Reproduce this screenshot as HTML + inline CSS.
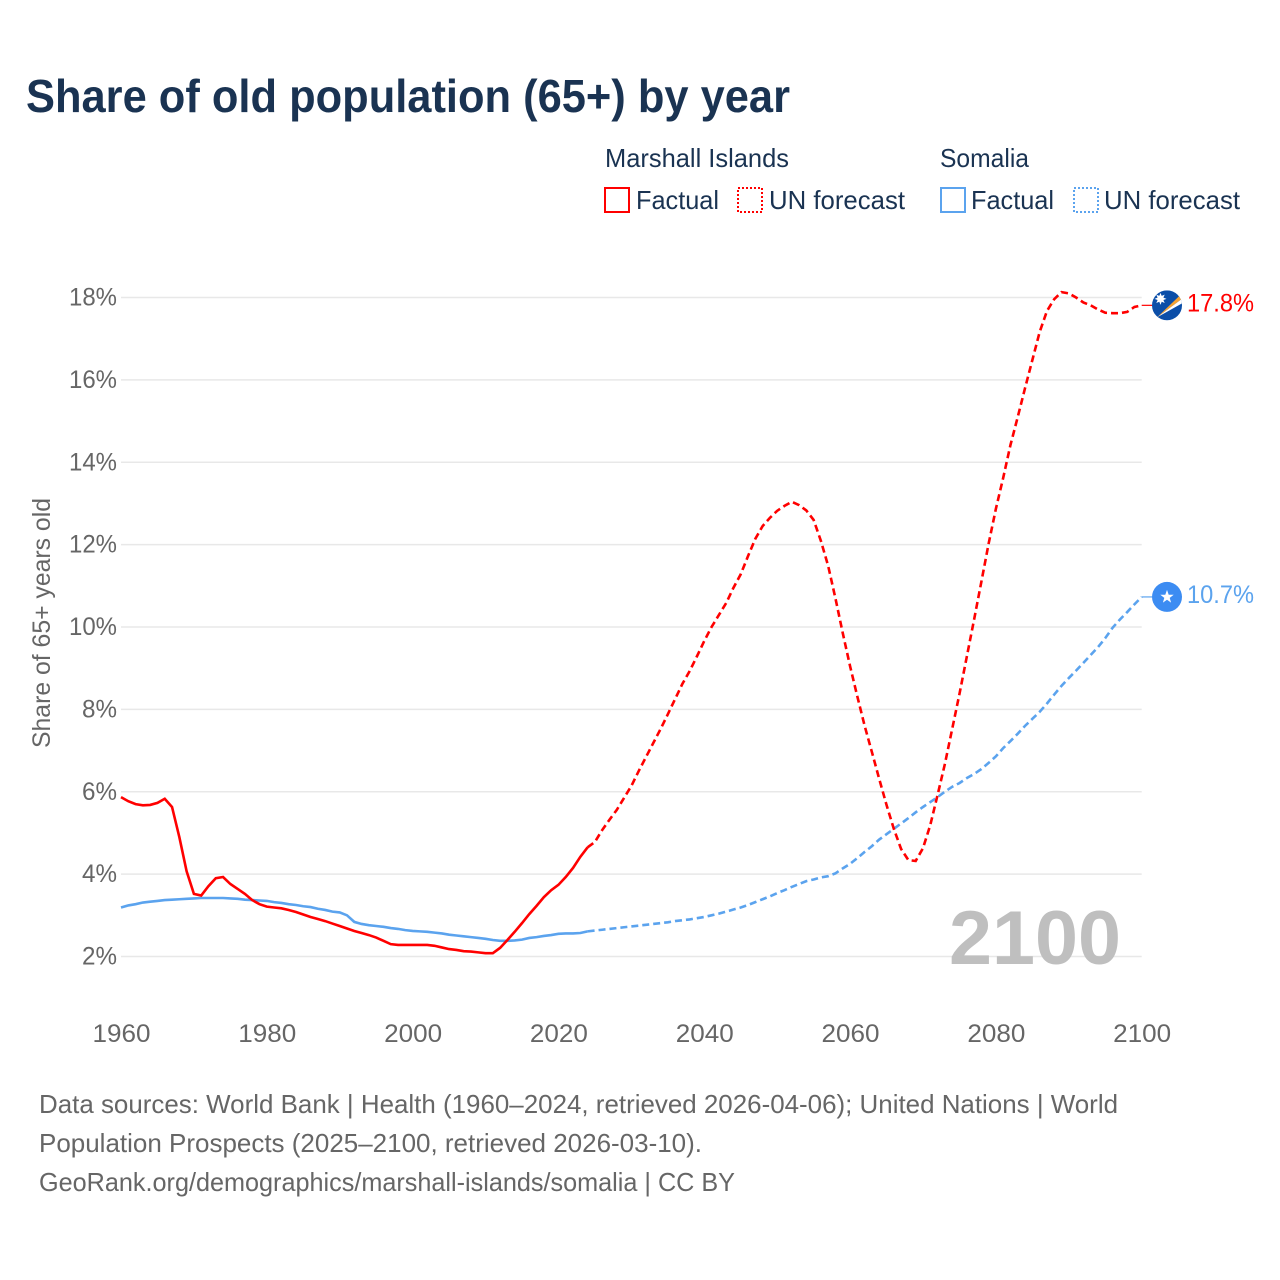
<!DOCTYPE html>
<html lang="en">
<head>
<meta charset="utf-8">
<title>Share of old population (65+) by year</title>
<style>
html,body{margin:0;padding:0;background:#fff;}
svg{display:block;}
text{font-family:"Liberation Sans",sans-serif;}
</style>
</head>
<body>
<svg id="chart" width="1280" height="1280" viewBox="0 0 1280 1280" xmlns="http://www.w3.org/2000/svg">
  <rect width="1280" height="1280" fill="#fff"/>
  <text x="26" y="112" font-size="46" font-weight="700" fill="#1a3352" textLength="764" lengthAdjust="spacingAndGlyphs">Share of old population (65+) by year</text>

  <g font-size="26" fill="#1a3352">
    <text x="605" y="167" textLength="184" lengthAdjust="spacingAndGlyphs">Marshall Islands</text>
    <text x="940" y="167" textLength="89" lengthAdjust="spacingAndGlyphs">Somalia</text>
    <rect x="605" y="188" width="24" height="24" fill="none" stroke="#ff0000" stroke-width="2"/>
    <text x="636" y="209" textLength="83" lengthAdjust="spacingAndGlyphs">Factual</text>
    <rect x="738" y="188" width="24" height="24" fill="none" stroke="#ff0000" stroke-width="2" stroke-dasharray="2 2"/>
    <text x="769" y="209" textLength="136" lengthAdjust="spacingAndGlyphs">UN forecast</text>
    <rect x="941" y="188" width="24" height="24" fill="none" stroke="#5ba3ee" stroke-width="2"/>
    <text x="971" y="209" textLength="83" lengthAdjust="spacingAndGlyphs">Factual</text>
    <rect x="1074" y="188" width="24" height="24" fill="none" stroke="#5ba3ee" stroke-width="2" stroke-dasharray="2 2"/>
    <text x="1104" y="209" textLength="136" lengthAdjust="spacingAndGlyphs">UN forecast</text>
  </g>

  <text transform="translate(50,623) rotate(-90)" text-anchor="middle" font-size="25" fill="#666" textLength="250" lengthAdjust="spacingAndGlyphs">Share of 65+ years old</text>

  <g id="grid"></g>
  <g id="yticks"></g>
  <g id="xticks"></g>

  <text x="949" y="964" font-size="76" font-weight="700" fill="#bfbfbf" textLength="172" lengthAdjust="spacingAndGlyphs">2100</text>

  <g id="series"></g>

  <g id="flag-marshall">
    <defs><clipPath id="mh-clip"><circle cx="0" cy="0" r="15"/></clipPath></defs>
    <g clip-path="url(#mh-clip)">
      <rect x="-15" y="-15" width="30" height="30" fill="#0b4ea8"/>
      <polygon points="-10,12 14,-11 15,-6.5" fill="#f4a233"/>
      <polygon points="-10,12 15,-6.5 15,-2" fill="#ffffff"/>
      <polygon points="-6.5,-12.5 -5.3,-9.4 -2.3,-10.7 -3.6,-7.7 -0.5,-6.5 -3.6,-5.3 -2.3,-2.3 -5.3,-3.6 -6.5,-0.5 -7.7,-3.6 -10.7,-2.3 -9.4,-5.3 -12.5,-6.5 -9.4,-7.7 -10.7,-10.7 -7.7,-9.4" fill="#ffffff"/>
    </g>
  </g>
  <g id="flag-somalia">
    <circle cx="0" cy="0" r="15" fill="#3c8cf2"/>
    <polygon points="0,-7 1.7,-2.2 6.7,-2.2 2.7,0.9 4.1,5.7 0,2.8 -4.1,5.7 -2.7,0.9 -6.7,-2.2 -1.7,-2.2" fill="#ffffff"/>
  </g>

  <text id="label-marshall" x="1187" font-size="25" fill="#ff0000" textLength="67" lengthAdjust="spacingAndGlyphs"></text>
  <text id="label-somalia" x="1187" font-size="25" fill="#5ba3ee" textLength="67" lengthAdjust="spacingAndGlyphs"></text>

  <g font-size="26" fill="#666">
    <text x="39" y="1113" textLength="1079" lengthAdjust="spacingAndGlyphs">Data sources: World Bank | Health (1960–2024, retrieved 2026-04-06); United Nations | World</text>
    <text x="39" y="1152" textLength="663" lengthAdjust="spacingAndGlyphs">Population Prospects (2025–2100, retrieved 2026-03-10).</text>
    <text x="39" y="1191" textLength="696" lengthAdjust="spacingAndGlyphs">GeoRank.org/demographics/marshall-islands/somalia | CC BY</text>
  </g>
</svg>
<script>
const factualStartYear = 1960;
const forecastStartYear = 2024;
const xTickYears = [1960, 1980, 2000, 2020, 2040, 2060, 2080, 2100];
const yTickValues = [2, 4, 6, 8, 10, 12, 14, 16, 18];
const marshallEndLabel = "17.8%";
const somaliaEndLabel = "10.7%";

const marshallFactual = [
  5.87,5.77,5.70,5.67,5.68,5.73,5.83,5.63,4.90,4.07,
  3.52,3.48,3.71,3.90,3.93,3.76,3.64,3.52,3.37,3.27,
  3.21,3.19,3.17,3.13,3.08,3.02,2.96,2.91,2.86,2.80,
  2.74,2.68,2.62,2.57,2.52,2.46,2.38,2.30,2.28,2.28,
  2.28,2.28,2.28,2.26,2.22,2.18,2.16,2.13,2.12,2.10,
  2.08,2.08,2.21,2.40,2.60,2.81,3.03,3.23,3.44,3.61,
  3.74,3.93,4.15,4.42,4.65
];
const marshallForecast = [
  4.65,
  4.78,5.07,5.32,5.56,5.85,
  6.14,6.50,6.84,7.18,7.52,7.88,8.25,8.62,8.93,9.29,
  9.66,10.00,10.29,10.58,10.95,11.28,11.72,12.14,12.45,12.65,
  12.82,12.94,13.04,12.96,12.83,12.60,12.09,11.48,10.69,9.85,
  9.05,8.31,7.60,6.96,6.31,5.68,5.10,4.61,4.34,4.32,
  4.63,5.19,5.92,6.67,7.52,8.37,9.27,10.17,11.09,12.02,
  12.87,13.62,14.42,15.10,15.80,16.48,17.16,17.67,17.96,18.13,
  18.10,18.00,17.88,17.81,17.71,17.63,17.62,17.62,17.65,17.77,
  17.81
];
const somaliaFactual = [
  3.19,3.24,3.27,3.31,3.33,3.35,3.37,3.38,3.39,3.40,
  3.41,3.42,3.42,3.42,3.42,3.41,3.40,3.38,3.37,3.36,
  3.35,3.32,3.30,3.27,3.25,3.22,3.20,3.16,3.13,3.09,
  3.07,3.00,2.84,2.79,2.76,2.74,2.72,2.69,2.67,2.64,
  2.62,2.61,2.60,2.58,2.56,2.53,2.51,2.49,2.47,2.45,
  2.43,2.40,2.38,2.38,2.39,2.41,2.45,2.47,2.50,2.52,
  2.55,2.56,2.56,2.57,2.61
];
const somaliaForecast = [
  2.61,
  2.63,2.65,2.67,2.69,2.71,
  2.73,2.75,2.77,2.79,2.81,2.83,2.86,2.88,2.90,2.93,
  2.96,3.00,3.04,3.09,3.14,3.19,3.25,3.32,3.39,3.46,
  3.54,3.61,3.69,3.76,3.83,3.87,3.92,3.95,4.02,4.14,
  4.25,4.39,4.54,4.68,4.84,4.97,5.10,5.23,5.36,5.50,
  5.63,5.75,5.87,6.00,6.12,6.21,6.33,6.43,6.55,6.70,
  6.86,7.06,7.23,7.41,7.60,7.77,7.94,8.14,8.36,8.57,
  8.76,8.94,9.13,9.32,9.51,9.73,9.98,10.18,10.36,10.55,
  10.73
];

const NS = "http://www.w3.org/2000/svg";
const xLeft = 121, xRight = 1141.7, yearMin = 1960, yearMax = 2100;
const yBottom = 956.5, yTop = 297.5, valueMin = 2, valueMax = 18;
const leaderEndX = 1152, flagX = 1167;
function xScale(year) {
  return xLeft + (year - yearMin) * (xRight - xLeft) / (yearMax - yearMin);
}
function yScale(value) {
  return yBottom - (value - valueMin) * (yBottom - yTop) / (valueMax - valueMin);
}
function make(tag, parent) {
  const el = document.createElementNS(NS, tag);
  parent.appendChild(el);
  return el;
}
function linePath(values, startYear) {
  return values.map(function (v, i) {
    return (i ? "L" : "M") + xScale(startYear + i).toFixed(2) + " " + yScale(v).toFixed(2);
  }).join(" ");
}

const gridGroup = document.getElementById("grid");
const yTickGroup = document.getElementById("yticks");
const xTickGroup = document.getElementById("xticks");
const seriesGroup = document.getElementById("series");

yTickValues.forEach(function (v) {
  const grid = make("line", gridGroup);
  
  
  grid.setAttribute("x1", xLeft);
  grid.setAttribute("x2", xRight);
  grid.setAttribute("y1", yScale(v));
  grid.setAttribute("y2", yScale(v));
  grid.setAttribute("stroke", "#e8e8e8");
  grid.setAttribute("stroke-width", "1.5");

  const label = make("text", yTickGroup);
  
  
  label.setAttribute("x", 117);
  label.setAttribute("y", yScale(v) + 8);
  label.setAttribute("text-anchor", "end");
  label.setAttribute("font-size", "25");
  label.setAttribute("fill", "#666");
  label.setAttribute("textLength", v >= 10 ? 48 : 35);
  label.setAttribute("lengthAdjust", "spacingAndGlyphs");
  label.textContent = v + "%";
});

xTickYears.forEach(function (year) {
  const label = make("text", xTickGroup);
  
  
  label.setAttribute("x", xScale(year) + 0.5);
  label.setAttribute("y", 1042);
  label.setAttribute("text-anchor", "middle");
  label.setAttribute("font-size", "25");
  label.setAttribute("fill", "#666");
  label.setAttribute("textLength", 58);
  label.setAttribute("lengthAdjust", "spacingAndGlyphs");
  label.textContent = year;
});

const somaliaColor = "#5ba3ee";
const marshallColor = "#ff0000";

const somaliaForecastLine = make("path", seriesGroup);


somaliaForecastLine.setAttribute("d", linePath(somaliaForecast, forecastStartYear));
somaliaForecastLine.setAttribute("fill", "none");
somaliaForecastLine.setAttribute("stroke", somaliaColor);
somaliaForecastLine.setAttribute("stroke-width", "2.6");
somaliaForecastLine.setAttribute("stroke-dasharray", "7 4");

const somaliaFactualLine = make("path", seriesGroup);


somaliaFactualLine.setAttribute("d", linePath(somaliaFactual, factualStartYear));
somaliaFactualLine.setAttribute("fill", "none");
somaliaFactualLine.setAttribute("stroke", somaliaColor);
somaliaFactualLine.setAttribute("stroke-width", "2.6");

const marshallFactualLine = make("path", seriesGroup);


marshallFactualLine.setAttribute("d", linePath(marshallFactual, factualStartYear));
marshallFactualLine.setAttribute("fill", "none");
marshallFactualLine.setAttribute("stroke", marshallColor);
marshallFactualLine.setAttribute("stroke-width", "2.6");

const marshallForecastLine = make("path", seriesGroup);


marshallForecastLine.setAttribute("d", linePath(marshallForecast, forecastStartYear));
marshallForecastLine.setAttribute("fill", "none");
marshallForecastLine.setAttribute("stroke", marshallColor);
marshallForecastLine.setAttribute("stroke-width", "2.6");
marshallForecastLine.setAttribute("stroke-dasharray", "7 4");

const marshallEndY = yScale(marshallForecast[marshallForecast.length - 1]);
const somaliaEndY = yScale(somaliaForecast[somaliaForecast.length - 1]);

const marshallLeader = make("line", seriesGroup);


marshallLeader.setAttribute("x1", xRight);
marshallLeader.setAttribute("x2", leaderEndX);
marshallLeader.setAttribute("y1", marshallEndY);
marshallLeader.setAttribute("y2", marshallEndY);
marshallLeader.setAttribute("stroke", marshallColor);
marshallLeader.setAttribute("stroke-width", "1.2");

const somaliaLeader = make("line", seriesGroup);


somaliaLeader.setAttribute("x1", xRight);
somaliaLeader.setAttribute("x2", leaderEndX);
somaliaLeader.setAttribute("y1", somaliaEndY);
somaliaLeader.setAttribute("y2", somaliaEndY);
somaliaLeader.setAttribute("stroke", somaliaColor);
somaliaLeader.setAttribute("stroke-width", "1.2");

document.getElementById("flag-marshall").setAttribute("transform", "translate(" + flagX + "," + marshallEndY + ")");
document.getElementById("flag-somalia").setAttribute("transform", "translate(" + flagX + "," + somaliaEndY + ")");

const marshallLabel = document.getElementById("label-marshall");
marshallLabel.setAttribute("y", marshallEndY + 6);
marshallLabel.textContent = marshallEndLabel;
const somaliaLabel = document.getElementById("label-somalia");
somaliaLabel.setAttribute("y", somaliaEndY + 6);
somaliaLabel.textContent = somaliaEndLabel;
</script>
</body>
</html>
